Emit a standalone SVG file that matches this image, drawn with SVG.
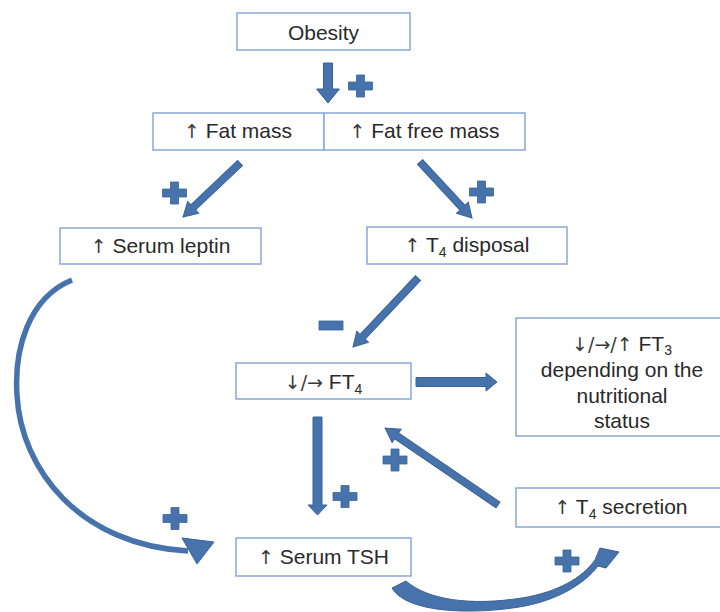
<svg xmlns="http://www.w3.org/2000/svg" xmlns:xlink="http://www.w3.org/1999/xlink" width="720" height="612" viewBox="0 0 720 612">
<defs>
<style>
.box{fill:#ffffff;stroke:#86a8d6;stroke-width:1.5}
.t{font-family:"Liberation Sans",Arial,sans-serif;font-size:21px;fill:#2a2a2a;text-anchor:middle}
.g{font-family:"DejaVu Sans",sans-serif;font-size:19px;fill:#3a3a3a}
.sub{font-size:14px}
.ar{fill:#4773ad;stroke:#3b6298;stroke-width:1}
.curve{fill:none;stroke:#4773ad;stroke-width:5.5}
</style>
<path id="plus" d="M-4,-11 h8 v7 h8 v8 h-8 v7 h-8 v-7 h-8 v-8 h8 z" fill="#4773ad" stroke="#3b6298" stroke-width="0.8"/>
</defs>
<rect width="720" height="612" fill="#ffffff"/>

<g id="obesity">
<rect class="box" x="237" y="13" width="173" height="37"/>
<text class="t" x="323.5" y="39.5">Obesity</text>
</g>
<g id="fat-mass">
<rect class="box" x="153" y="113" width="171" height="37"/>
<text class="t" x="238" y="138"><tspan class="g">↑</tspan> Fat mass</text>
</g>
<g id="fat-free-mass">
<rect class="box" x="324" y="113" width="201" height="37"/>
<text class="t" x="424.5" y="138"><tspan class="g">↑</tspan> Fat free mass</text>
</g>
<g id="serum-leptin">
<rect class="box" x="60" y="228" width="201" height="36"/>
<text class="t" x="160.5" y="253"><tspan class="g">↑</tspan> Serum leptin</text>
</g>
<g id="t4-disposal">
<rect class="box" x="367" y="227" width="200" height="37"/>
<text class="t" x="467" y="252"><tspan class="g">↑</tspan> T<tspan class="sub" dy="5">4</tspan><tspan dy="-5"> disposal</tspan></text>
</g>
<g id="ft4">
<rect class="box" x="236" y="363" width="175" height="36"/>
<text class="t" x="323.5" y="389"><tspan class="g">↓/→</tspan> FT<tspan class="sub" dy="5">4</tspan></text>
</g>
<g id="ft3">
<rect class="box" x="516" y="318" width="210" height="118"/>
<text class="t" x="622" y="351"><tspan class="g">↓/→/↑</tspan> FT<tspan class="sub" dy="4">3</tspan></text>
<text class="t" x="622" y="377">depending on the</text>
<text class="t" x="622" y="403">nutritional</text>
<text class="t" x="622" y="428">status</text>
</g>
<g id="t4-secretion">
<rect class="box" x="516" y="488" width="210" height="39"/>
<text class="t" x="621" y="514"><tspan class="g">↑</tspan> T<tspan class="sub" dy="5">4</tspan><tspan dy="-5"> secretion</tspan></text>
</g>
<g id="serum-tsh">
<rect class="box" x="236" y="538" width="175" height="38"/>
<text class="t" x="323.5" y="564"><tspan class="g">↑</tspan> Serum TSH</text>
</g>

<g id="connectors">
<polygon class="ar" points="323.5,63 332.5,63 332.5,89 339.5,89 328,103 316.5,89 323.5,89"/>
<polygon class="ar" transform="translate(240,163) rotate(136.55)" points="0,-3.5 64.5,-3.5 64.5,-8 78.5,0 64.5,8 64.5,3.5 0,3.5"/>
<polygon class="ar" transform="translate(420,162) rotate(47.1)" points="0,-3.5 62.4,-3.5 62.4,-8 76.4,0 62.4,8 62.4,3.5 0,3.5"/>
<polygon class="ar" transform="translate(418,278) rotate(133.3)" points="0,-3.5 80.8,-3.5 80.8,-8 94.8,0 80.8,8 80.8,3.5 0,3.5"/>
<polygon class="ar" points="416,377.5 486,377.5 486,373 497,382 486,391 486,386.5 416,386.5"/>
<polygon class="ar" points="313,417 322,417 322,505 327,505 317.5,515 308,505 313,505"/>
<polygon class="ar" transform="translate(498,505) rotate(-145.7)" points="0,-3.5 122.7,-3.5 122.7,-8 136.7,0 122.7,8 122.7,3.5 0,3.5"/>
<path class="curve" d="M72,280 C28,298 14,350 17,395 C21,470 80,545 188,551"/>
<polygon class="ar" points="182,538 214,542 197,564"/>
<path class="ar" d="M392,588 C405,612 470,616 525,606 C560,599 585,583 598,566 L606,568 L619,552 L600,548 L595,560 C582,578 558,592 522,598 C470,606 428,600 406,581 Z"/>
</g>

<g id="signs">
<use xlink:href="#plus" x="360.5" y="86"/>
<use xlink:href="#plus" x="174.5" y="193"/>
<use xlink:href="#plus" x="481.5" y="192"/>
<rect x="319" y="321" width="24" height="9" fill="#4773ad" stroke="#3b6298" stroke-width="0.8"/>
<use xlink:href="#plus" x="395" y="460"/>
<use xlink:href="#plus" x="345" y="496.5"/>
<use xlink:href="#plus" x="175" y="518.5"/>
<use xlink:href="#plus" x="567" y="561"/>
</g>
</svg>
